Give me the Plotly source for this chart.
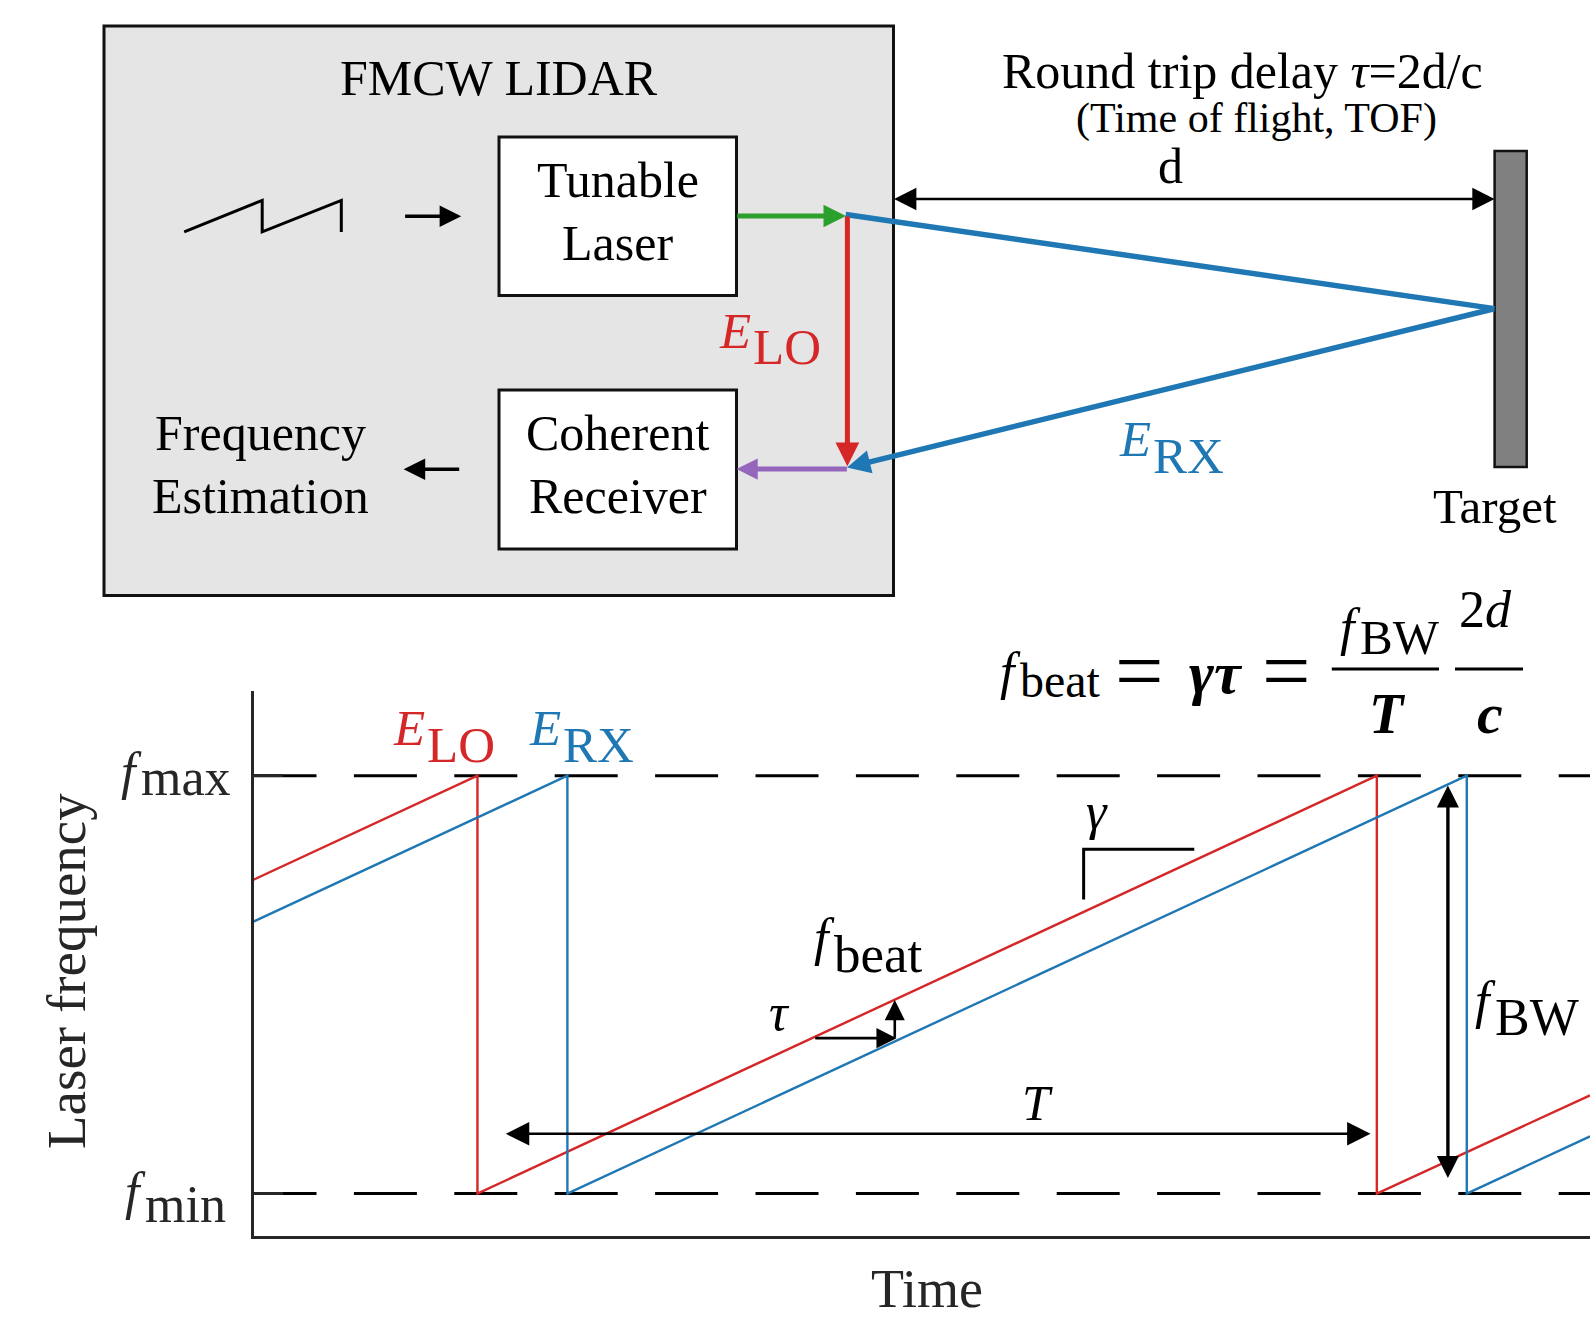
import plotly.graph_objects as go

W, H = 1590, 1319

# Laser sweep: time in units where the chirp period T = 10, frequency normalised
# so that f_min = 0 and f_max = 1.
lo_time = [0.0, 2.49, 2.49, 12.49, 12.49, 14.86]
lo_freq = [0.751, 1.0, 0.0, 1.0, 0.0, 0.235]
rx_time = [0.0, 3.49, 3.49, 13.49, 13.49, 14.86]
rx_freq = [0.651, 1.0, 0.0, 1.0, 0.0, 0.137]

time_span = [0.0, 14.86]
freq_levels = [0.0, 1.0]
freq_level_names = ["min", "max"]

RED = "#d62728"
BLUE = "#1f77b4"
GREEN = "#2ca02c"
PURPLE = "#9467bd"
AX = "#262626"
SERIF = "Liberation Serif"

fig = go.Figure()

# f_min / f_max reference levels
for lvl in freq_levels:
    fig.add_trace(go.Scatter(x=time_span, y=[lvl, lvl], mode="lines",
                             line=dict(color="black", width=3, dash="63px,37.4px"),
                             hoverinfo="skip", showlegend=False))
# local oscillator and received chirps
for t, f, c in ((lo_time, lo_freq, RED), (rx_time, rx_freq, BLUE)):
    fig.add_trace(go.Scatter(x=t, y=f, mode="lines", line=dict(color=c, width=2.4),
                             hoverinfo="skip", showlegend=False))
# pixel-space layer for the block diagram
fig.add_trace(go.Scatter(x=[0], y=[0], xaxis="x2", yaxis="y2", mode="none",
                         hoverinfo="skip", showlegend=False))

shapes = []
annotations = []


def txt(x, base, text, size, color="black", anchor="center", xr="x2", yr="y2"):
    annotations.append(dict(x=x, y=base - 0.3375 * size, xref=xr, yref=yr, text=text,
                            showarrow=False, xanchor=anchor, yanchor="middle", borderpad=0,
                            font=dict(family=SERIF, size=size, color=color)))


def txt_mid(x, yc, text, size, color="black", anchor="center", angle=0):
    annotations.append(dict(x=x, y=yc, xref="x2", yref="y2", text=text, showarrow=False,
                            xanchor=anchor, yanchor="middle", borderpad=0, textangle=angle,
                            font=dict(family=SERIF, size=size, color=color)))


def subscripted(split_x, base_main, base_sub, main, sub, size, color="black", sub_size=None,
                gap=0):
    txt(split_x, base_main, main, size, color, "right")
    txt(split_x - gap, base_sub, sub, sub_size or size, color, "left")


def arrow(tail, tip, color, width, size, both=False, xr="x2", yr="y2"):
    annotations.append(dict(x=tip[0], y=tip[1], ax=tail[0], ay=tail[1], xref=xr, yref=yr,
                            axref=xr, ayref=yr, text="", showarrow=True, arrowhead=2,
                            arrowsize=size, arrowwidth=width, arrowcolor=color,
                            startarrowhead=2, startarrowsize=size,
                            arrowside="end+start" if both else "end",
                            standoff=0, startstandoff=0, borderpad=0))


def rect(x0, y0, x1, y1, fill, lw, lc="#111111"):
    shapes.append(dict(type="rect", xref="x2", yref="y2", x0=x0, y0=y0, x1=x1, y1=y1,
                       fillcolor=fill, line=dict(color=lc, width=lw)))


def path(d, color, lw, xr="x2", yr="y2"):
    shapes.append(dict(type="path", xref=xr, yref=yr, path=d,
                       line=dict(color=color, width=lw)))


# ---------------- block diagram ----------------
rect(104, 26, 893.5, 595.5, "#e5e5e5", 3)
rect(499, 137, 736.5, 295.5, "white", 3)
rect(499, 390, 736.5, 549, "white", 3)
rect(1494.6, 151, 1526.7, 467, "#808080", 2.5)

txt(498.5, 95, "FMCW LIDAR", 50)
txt(617.7, 197, "Tunable", 50)
txt(617.7, 260, "Laser", 50)
txt(617.7, 450, "Coherent", 50)
txt(617.7, 512.6, "Receiver", 50)
txt(260.7, 449.6, "Frequency", 50)
txt(260.7, 512.6, "Estimation", 50)

# ramp symbol
path("M184.2,231.9 L262.2,200.4 L262.2,231.9 L341.3,200.4 L341.3,231.9", "black", 3)
arrow((404.6, 216.3), (461.2, 216.3), "black", 3.6, 1.2)
arrow((459.7, 469.3), (403.6, 469.3), "black", 3.6, 1.2)

# optical paths
path("M845.7,214.5 L1494.6,308.6", BLUE, 5.5)
arrow((1494.6, 308.6), (847.0, 467.5), BLUE, 5.5, 0.85)
arrow((736.7, 216.0), (846.0, 216.0), GREEN, 5, 0.9)
arrow((847.4, 216.0), (847.4, 466.3), RED, 5, 0.95)
arrow((847.4, 469.0), (736.5, 469.0), PURPLE, 5, 0.85)

subscripted(752, 348, 364.4, "<i>E</i>", "LO", 51, RED)
subscripted(1152, 456, 473, "<i>E</i>", "RX", 51, BLUE)

arrow((893.6, 199.0), (1494.6, 199.0), "black", 2.7, 1.65, both=True)
txt(1170, 183, "d", 50)
txt(1242, 88, "Round trip delay <i>τ</i>=2d/c", 50)
txt(1256, 133, "(Time of flight, TOF)", 42)
txt(1494.7, 523, "Target", 49)

# ---------------- beat-frequency formula ----------------
subscripted(1022, 689, 697, "<i>f</i>", "beat", 52, sub_size=48, gap=3)
txt_mid(1139, 670.5, "=", 86)
txt(1216, 693, "<b><i>γτ</i></b>", 60)
txt_mid(1286, 670.5, "=", 86)
subscripted(1362, 645, 654, "<i>f</i>", "BW", 52, sub_size=49, gap=3)
path("M1331.8,669 L1439,669", "black", 2.8)
txt(1387, 733, "<b><i>T</i></b>", 56)
txt(1485, 627.5, "2<i>d</i>", 52)
path("M1455,669 L1523,669", "black", 2.8)
txt(1490, 733, "<b><i>c</i></b>", 58)

# ---------------- sweep chart annotations ----------------
subscripted(142.5, 789, 795, "<i>f</i>", freq_level_names[1], 52, AX, gap=3)
subscripted(147, 1209, 1221.7, "<i>f</i>", freq_level_names[0], 52, AX, gap=3)
subscripted(426, 745, 762, "<i>E</i>", "LO", 51, RED)
subscripted(562, 745, 762, "<i>E</i>", "RX", 51, BLUE)
subscripted(836, 955, 971.7, "<i>f</i>", "beat", 52, sub_size=53, gap=3)
txt(779, 1030, "<i>τ</i>", 52)
txt(1097, 829, "<i>γ</i>", 52)
txt(1037, 1120, "<i>T</i>", 50)
subscripted(1497, 1018, 1035, "<i>f</i>", "BW", 52, gap=3)

txt_mid(66, 971, "Laser frequency", 55, AX, angle=-90)
txt(927, 1307, "Time", 54, AX)

# arrows in data space
arrow((2.80, 0.143), (12.42, 0.143), "black", 2.6, 1.8, both=True, xr="x", yr="y")
arrow((13.28, 0.978), (13.28, 0.037), "black", 3.4, 1.3, both=True, xr="x", yr="y")
arrow((6.24, 0.372), (7.15, 0.372), "black", 2.6, 1.55, xr="x", yr="y")
arrow((7.13, 0.372), (7.13, 0.463), "black", 2.6, 1.55, xr="x", yr="y")
# slope marker for the chirp rate gamma
path("M9.23,0.704 L9.23,0.824 L10.46,0.824", "black", 3, xr="x", yr="y")

fig.update_layout(
    width=W, height=H, margin=dict(l=0, r=0, t=0, b=0),
    paper_bgcolor="white", plot_bgcolor="rgba(0,0,0,0)", showlegend=False,
    xaxis=dict(domain=[253.5 / W, 1], range=time_span, showline=True, linecolor=AX,
               linewidth=3, showgrid=False, zeroline=False, showticklabels=False,
               ticks="", anchor="y", fixedrange=True),
    yaxis=dict(domain=[1 - 1236.2 / H, 1 - 691.3 / H], range=[-0.102, 1.202],
               showline=True, linecolor=AX, linewidth=3, showgrid=False, zeroline=False,
               tickvals=freq_levels, showticklabels=False, ticks="inside", ticklen=29,
               tickwidth=2.5, tickcolor=AX, anchor="x", fixedrange=True),
    xaxis2=dict(domain=[0, 1], range=[0, W], visible=False, anchor="y2", fixedrange=True),
    yaxis2=dict(domain=[0, 1], range=[H, 0], visible=False, anchor="x2", fixedrange=True),
    shapes=shapes, annotations=annotations,
)

fig.write_html("out.html")
